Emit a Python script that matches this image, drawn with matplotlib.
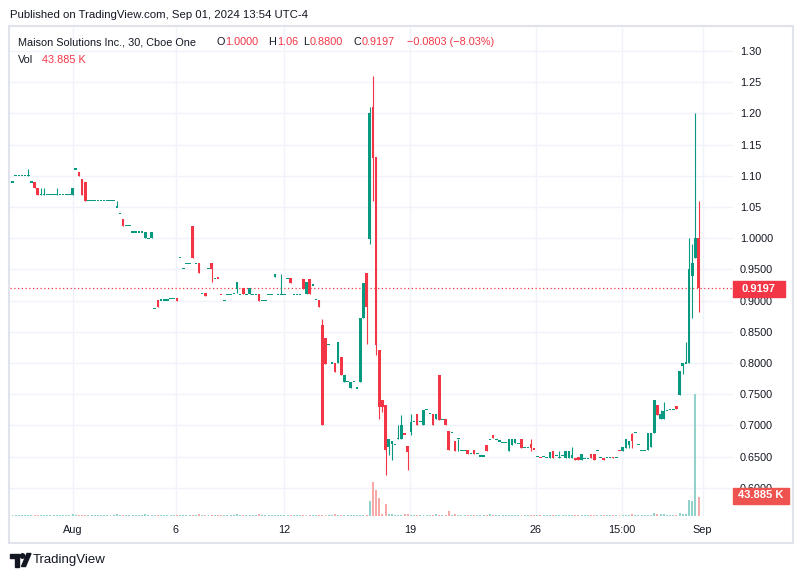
import numpy as np
import matplotlib.pyplot as plt
from matplotlib.patches import Rectangle, Ellipse, Polygon
from matplotlib.ticker import FuncFormatter

plt.rcParams['font.family'] = ['Liberation Sans', 'DejaVu Sans']

W, H = 804, 578

# 30 min candles
opens = [
    1.090, 1.100, 1.100, 1.100, 1.100, 1.100, 1.090, 1.090, 1.080, 1.070,
    1.070, 1.070, 1.070, 1.070, 1.070, 1.070, 1.070, 1.070, 1.070, 1.070,
    1.111, 1.106, 1.095, 1.090, 1.060, 1.060, 1.060, 1.060, 1.060, 1.060,
    1.060, 1.060, 1.060, 1.050, 1.040, 1.031, 1.020, 1.020, 1.010, 1.010,
    1.010, 1.010, 1.000, 1.000, 1.000, 0.888, 0.901, 0.901, 0.901, 0.901,
    0.904, 0.904, 0.904, 0.969, 0.951, 0.960, 0.960, 1.020, 0.960, 0.960,
    0.912, 0.912, 0.951, 0.960, 0.935, 0.9365, 0.9105, 0.900, 0.910, 0.910,
    0.912, 0.919, 0.910, 0.920, 0.910, 0.910, 0.910, 0.910, 0.910, 0.900,
    0.900, 0.910, 0.910, 0.938, 0.910, 0.910, 0.910, 0.936, 0.936, 0.910,
    0.910, 0.910, 0.935, 0.910, 0.935, 0.925, 0.902, 0.901, 0.861, 0.840,
    0.830, 0.800, 0.800, 0.800, 0.810, 0.770, 0.770, 0.760, 0.770, 0.760,
    0.770, 0.872, 0.944, 0.999, 1.210, 1.130, 0.821, 0.741, 0.732, 0.666,
    0.670, 0.670, 0.679, 0.679, 0.6865, 0.667, 0.690, 0.706, 0.719, 0.706,
    0.700, 0.725, 0.719, 0.719, 0.710, 0.781, 0.710, 0.710, 0.691, 0.689,
    0.675, 0.679, 0.660, 0.660, 0.660, 0.655, 0.660, 0.655, 0.651, 0.651,
    0.669, 0.678, 0.685, 0.678, 0.675, 0.673, 0.673, 0.659, 0.669, 0.671,
    0.671, 0.678, 0.665, 0.665, 0.670, 0.6625, 0.650, 0.6485, 0.650, 0.648,
    0.648, 0.659, 0.652, 0.648, 0.652, 0.648, 0.648, 0.648, 0.648, 0.650,
    0.644, 0.647, 0.647, 0.654, 0.654, 0.660, 0.649, 0.648, 0.649, 0.648,
    0.649, 0.648, 0.6595, 0.659, 0.664, 0.669, 0.687, 0.688, 0.670, 0.660,
    0.660, 0.660, 0.665, 0.688, 0.732, 0.710, 0.710, 0.724, 0.726, 0.726,
    0.731, 0.749, 0.795, 0.800, 0.800, 0.940, 0.969, 1.000,
]
highs = [
    1.090, 1.100, 1.100, 1.100, 1.100, 1.111, 1.090, 1.090, 1.080, 1.080,
    1.080, 1.070, 1.070, 1.070, 1.080, 1.070, 1.070, 1.070, 1.070, 1.080,
    1.111, 1.106, 1.095, 1.090, 1.060, 1.060, 1.060, 1.060, 1.060, 1.060,
    1.060, 1.060, 1.060, 1.060, 1.040, 1.031, 1.020, 1.020, 1.010, 1.010,
    1.010, 1.010, 1.010, 1.000, 1.010, 0.888, 0.901, 0.901, 0.901, 0.901,
    0.904, 0.904, 0.904, 0.969, 0.951, 0.960, 0.960, 1.020, 0.960, 0.960,
    0.912, 0.912, 0.951, 0.960, 0.935, 0.9365, 0.9105, 0.900, 0.910, 0.910,
    0.912, 0.930, 0.910, 0.920, 0.910, 0.920, 0.910, 0.910, 0.910, 0.900,
    0.900, 0.910, 0.910, 0.943, 0.910, 0.943, 0.910, 0.936, 0.936, 0.910,
    0.910, 0.910, 0.935, 0.930, 0.935, 0.925, 0.902, 0.901, 0.871, 0.840,
    0.830, 0.800, 0.800, 0.833, 0.810, 0.780, 0.770, 0.770, 0.770, 0.760,
    0.872, 0.928, 0.944, 1.211, 1.260, 1.130, 0.821, 0.741, 0.732, 0.679,
    0.675, 0.670, 0.700, 0.717, 0.6865, 0.667, 0.719, 0.706, 0.719, 0.706,
    0.725, 0.725, 0.719, 0.719, 0.719, 0.781, 0.710, 0.710, 0.691, 0.689,
    0.675, 0.679, 0.660, 0.660, 0.660, 0.655, 0.660, 0.655, 0.651, 0.651,
    0.669, 0.678, 0.685, 0.678, 0.675, 0.673, 0.673, 0.678, 0.678, 0.678,
    0.671, 0.678, 0.665, 0.665, 0.678, 0.6625, 0.650, 0.6485, 0.650, 0.648,
    0.658, 0.659, 0.652, 0.659, 0.652, 0.659, 0.659, 0.665, 0.648, 0.650,
    0.654, 0.647, 0.647, 0.654, 0.654, 0.660, 0.649, 0.648, 0.649, 0.648,
    0.649, 0.648, 0.6595, 0.665, 0.678, 0.675, 0.688, 0.688, 0.670, 0.660,
    0.660, 0.688, 0.688, 0.740, 0.732, 0.725, 0.738, 0.724, 0.726, 0.726,
    0.731, 0.787, 0.800, 0.834, 1.000, 0.991, 1.201, 1.060,
]
lows = [
    1.090, 1.100, 1.100, 1.100, 1.100, 1.100, 1.090, 1.080, 1.070, 1.070,
    1.070, 1.070, 1.070, 1.070, 1.070, 1.070, 1.070, 1.070, 1.070, 1.070,
    1.111, 1.099, 1.070, 1.059, 1.060, 1.060, 1.060, 1.060, 1.060, 1.060,
    1.060, 1.060, 1.060, 1.050, 1.040, 1.019, 1.020, 1.020, 1.010, 1.010,
    1.010, 1.010, 1.000, 1.000, 1.000, 0.888, 0.889, 0.901, 0.901, 0.901,
    0.904, 0.904, 0.900, 0.969, 0.951, 0.960, 0.960, 0.969, 0.960, 0.945,
    0.912, 0.907, 0.951, 0.930, 0.935, 0.936, 0.910, 0.900, 0.910, 0.910,
    0.912, 0.912, 0.910, 0.910, 0.910, 0.910, 0.910, 0.910, 0.900, 0.900,
    0.900, 0.910, 0.910, 0.938, 0.910, 0.910, 0.910, 0.936, 0.928, 0.910,
    0.910, 0.910, 0.919, 0.910, 0.910, 0.925, 0.902, 0.889, 0.700, 0.799,
    0.830, 0.800, 0.786, 0.800, 0.780, 0.770, 0.770, 0.760, 0.770, 0.760,
    0.770, 0.872, 0.830, 0.991, 1.060, 0.813, 0.710, 0.722, 0.620, 0.653,
    0.645, 0.670, 0.679, 0.679, 0.686, 0.629, 0.685, 0.706, 0.700, 0.706,
    0.700, 0.725, 0.719, 0.700, 0.710, 0.709, 0.710, 0.700, 0.660, 0.689,
    0.659, 0.659, 0.660, 0.660, 0.654, 0.655, 0.654, 0.655, 0.651, 0.651,
    0.659, 0.678, 0.680, 0.678, 0.675, 0.673, 0.673, 0.659, 0.669, 0.671,
    0.671, 0.664, 0.665, 0.665, 0.659, 0.662, 0.650, 0.648, 0.650, 0.648,
    0.648, 0.648, 0.652, 0.648, 0.652, 0.648, 0.648, 0.648, 0.644, 0.644,
    0.644, 0.647, 0.647, 0.648, 0.644, 0.660, 0.649, 0.645, 0.649, 0.648,
    0.647, 0.648, 0.659, 0.659, 0.664, 0.664, 0.664, 0.688, 0.670, 0.660,
    0.660, 0.660, 0.665, 0.688, 0.716, 0.710, 0.710, 0.724, 0.726, 0.726,
    0.726, 0.749, 0.782, 0.800, 0.800, 0.872, 0.969, 0.881,
]
closes = [
    1.090, 1.100, 1.100, 1.100, 1.100, 1.100, 1.090, 1.080, 1.070, 1.070,
    1.070, 1.070, 1.070, 1.070, 1.070, 1.070, 1.070, 1.070, 1.070, 1.080,
    1.111, 1.099, 1.070, 1.059, 1.060, 1.060, 1.060, 1.060, 1.060, 1.060,
    1.060, 1.060, 1.060, 1.050, 1.040, 1.019, 1.020, 1.020, 1.010, 1.010,
    1.010, 1.010, 1.010, 1.000, 1.010, 0.888, 0.889, 0.901, 0.901, 0.901,
    0.904, 0.904, 0.900, 0.969, 0.951, 0.960, 0.960, 0.969, 0.960, 0.945,
    0.912, 0.907, 0.951, 0.951, 0.935, 0.936, 0.910, 0.900, 0.910, 0.910,
    0.912, 0.930, 0.910, 0.910, 0.910, 0.920, 0.910, 0.910, 0.900, 0.900,
    0.900, 0.910, 0.910, 0.943, 0.910, 0.910, 0.910, 0.936, 0.928, 0.910,
    0.910, 0.910, 0.919, 0.930, 0.910, 0.925, 0.902, 0.889, 0.700, 0.799,
    0.830, 0.800, 0.786, 0.833, 0.780, 0.780, 0.770, 0.770, 0.770, 0.760,
    0.872, 0.928, 0.889, 1.200, 1.129, 0.829, 0.730, 0.730, 0.661, 0.679,
    0.675, 0.670, 0.679, 0.700, 0.686, 0.658, 0.706, 0.706, 0.700, 0.706,
    0.725, 0.725, 0.719, 0.700, 0.719, 0.709, 0.710, 0.700, 0.660, 0.689,
    0.659, 0.679, 0.660, 0.660, 0.654, 0.655, 0.654, 0.655, 0.651, 0.651,
    0.659, 0.678, 0.680, 0.678, 0.675, 0.673, 0.673, 0.678, 0.678, 0.678,
    0.671, 0.664, 0.665, 0.665, 0.664, 0.662, 0.650, 0.648, 0.650, 0.648,
    0.658, 0.648, 0.652, 0.648, 0.652, 0.659, 0.659, 0.652, 0.644, 0.644,
    0.654, 0.647, 0.647, 0.648, 0.644, 0.660, 0.649, 0.645, 0.649, 0.648,
    0.647, 0.648, 0.659, 0.665, 0.678, 0.675, 0.675, 0.688, 0.670, 0.660,
    0.660, 0.688, 0.688, 0.740, 0.716, 0.718, 0.723, 0.724, 0.726, 0.726,
    0.726, 0.787, 0.800, 0.800, 0.951, 0.961, 1.000, 0.9197,
]
# volume in thousands
volumes = [
    2.0, 1.8, 1.8, 1.8, 1.8, 2.2, 1.8, 2.0, 2.0, 1.8,
    1.8, 1.8, 1.8, 1.8, 2.0, 1.8, 1.8, 1.8, 1.8, 4.5,
    1.8, 2.0, 2.0, 2.0, 1.8, 1.8, 1.8, 1.8, 1.8, 1.8,
    1.8, 1.8, 2.0, 4.5, 1.8, 2.0, 1.8, 1.8, 1.8, 1.8,
    1.8, 1.8, 4.5, 1.8, 2.0, 1.8, 2.0, 1.8, 1.8, 1.8,
    1.8, 1.8, 2.0, 1.8, 1.8, 1.8, 1.8, 2.5, 1.8, 4.5,
    1.8, 2.0, 1.8, 2.0, 1.8, 2.0, 2.0, 1.8, 1.8, 1.8,
    1.8, 4.5, 1.8, 2.0, 1.8, 2.0, 1.8, 1.8, 4.5, 1.8,
    1.8, 1.8, 1.8, 2.0, 1.8, 2.0, 1.8, 1.8, 2.0, 1.8,
    1.8, 1.8, 2.0, 2.0, 2.0, 1.8, 1.8, 2.0, 3.0, 2.0,
    1.8, 1.8, 5.0, 2.0, 2.0, 1.8, 1.8, 1.8, 1.8, 1.8,
    3.0, 3.0, 2.5, 35.0, 78.0, 60.0, 40.0, 5.0, 28.0, 3.5,
    5.0, 3.0, 3.0, 3.0, 4.0, 5.0, 3.0, 2.0, 2.5, 2.0,
    2.0, 2.0, 2.0, 2.5, 5.0, 3.0, 2.0, 2.5, 12.0, 2.5,
    3.5, 2.0, 1.8, 1.8, 2.0, 1.8, 2.0, 1.8, 1.8, 1.8,
    2.5, 5.0, 2.0, 2.5, 2.0, 1.8, 1.8, 2.0, 1.8, 1.8,
    1.8, 2.0, 1.8, 1.8, 2.0, 1.8, 1.8, 1.8, 1.8, 1.8,
    2.0, 2.0, 1.8, 1.8, 1.8, 1.8, 2.0, 1.8, 1.8, 1.8,
    1.8, 1.8, 1.8, 1.8, 1.8, 1.8, 1.8, 1.8, 1.8, 1.8,
    1.8, 1.8, 1.8, 1.8, 2.0, 1.8, 4.0, 1.8, 1.8, 1.8,
    1.8, 2.0, 1.8, 7.0, 4.0, 4.0, 4.0, 2.0, 2.0, 2.0,
    2.0, 7.0, 4.0, 5.0, 37.0, 35.0, 277.0, 43.885,
]

tick_pos = [19.2, 51.6, 86.0, 125.8, 165.5, 192.7, 218.3]
tick_labels = ['Aug', '6', '12', '19', '26', '15:00', 'Sep']
price_ticks = [0.60, 0.65, 0.70, 0.75, 0.80, 0.85, 0.90, 0.95,
               1.00, 1.05, 1.10, 1.15, 1.20, 1.25, 1.30]
last_close = 0.9197
last_vol_label = '43.885 K'

UP = '#089981'
DOWN = '#F23645'
VOL_UP = '#92D2CC'
VOL_DOWN = '#F7A9A7'
TXT = '#131722'
GRID = '#f0f3fa'


def fx(x):
    return x / W


def fy(y):
    return 1 - y / H


o = np.array(opens)
h = np.array(highs)
l = np.array(lows)
c = np.array(closes)
v = np.array(volumes)
x = np.arange(len(o))
up = c >= o

fig = plt.figure(figsize=(W / 100, H / 100), dpi=100)
pos = [fx(10), fy(516), 723 / W, 489 / H]
ax = fig.add_axes(pos)
ax_v = fig.add_axes(pos, facecolor='none')

xlim = (-0.79, 227.9)

# price panel
ax.set_xlim(*xlim)
ax.set_ylim(0.5548, 1.3385)
ax.set_yticks(price_ticks)
ax.yaxis.set_major_formatter(FuncFormatter(
    lambda val, p: f'{val:.2f}' if val > 1.001 else f'{val:.4f}'))
ax.yaxis.tick_right()
ax.set_xticks(tick_pos, tick_labels)
ax.tick_params(axis='y', length=0, pad=5, labelsize=7.8, labelcolor=TXT)
ax.tick_params(axis='x', length=0, pad=6.5, labelsize=7.8, labelcolor=TXT)
for s in ax.spines.values():
    s.set_visible(False)
ax.grid(color=GRID, linewidth=1)
ax.set_axisbelow(True)

cols = np.where(up, UP, DOWN)
ax.vlines(x, l, h, colors=cols, linewidth=0.8, zorder=3)
min_h = 0.0018
body = np.abs(c - o)
flat = body < min_h
bottom = np.where(flat, (o + c) / 2 - min_h / 2, np.minimum(o, c))
height = np.where(flat, min_h, body)
ax.bar(x, height, bottom=bottom, width=0.82, color=cols, linewidth=0, zorder=3)

ax.axhline(last_close, color=DOWN, linestyle=(0, (1, 2)), linewidth=0.9, zorder=2)

# volume panel
ax_v.set_xlim(*xlim)
ax_v.set_ylim(0, 1112)
ax_v.bar(x, v, width=0.62, color=np.where(up, VOL_UP, VOL_DOWN), linewidth=0)
ax_v.axis('off')

# the 0.6000 label sits mostly behind the volume tag, show only its top
clip = Rectangle((0, fy(488)), 1, 1, transform=fig.transFigure, visible=False)
fig.add_artist(clip)
for lbl in ax.get_yticklabels():
    if lbl.get_text() == '0.6000':
        lbl.set_clip_path(clip)

# frame
fig.add_artist(Rectangle((fx(9), fy(543)), 784 / W, 517 / H, transform=fig.transFigure,
                         fill=False, edgecolor='#e0e3eb', linewidth=1.5))

# last price / last volume labels
fig.add_artist(Rectangle((fx(733), fy(297)), 52 / W, 16 / H, transform=fig.transFigure,
                         color=DOWN, zorder=5))
fig.text(fx(759), fy(289), f'{last_close:.4f}', ha='center', va='center',
         color='white', fontsize=8, fontweight='bold', zorder=6)
fig.add_artist(Rectangle((fx(733), fy(503.5)), 56 / W, 16 / H, transform=fig.transFigure,
                         color='#EF5350', zorder=5))
fig.text(fx(761), fy(495.5), last_vol_label, ha='center', va='center',
         color='white', fontsize=8, fontweight='bold', zorder=6)

# header texts
fig.text(fx(10), fy(15), 'Published on TradingView.com, Sep 01, 2024 13:54 UTC-4',
         va='center', fontsize=8.2, color=TXT)

renderer = fig.canvas.get_renderer()
legend_groups = [
    (18.3, [('Maison Solutions Inc., 30, Cboe One', TXT)]),
    (216.5, [('O', TXT), ('1.0000', DOWN)]),
    (268.5, [('H', TXT), ('1.06', DOWN)]),
    (303.5, [('L', TXT), ('0.8800', DOWN)]),
    (353.5, [('C', TXT), ('0.9197', DOWN)]),
    (406.7, [('\u22120.0803 (\u22128.03%)', DOWN)]),
]
for start, parts in legend_groups:
    cur = start
    for txt, col in parts:
        t = fig.text(fx(cur), fy(42.3), txt, va='center', fontsize=7.8, color=col)
        cur = t.get_window_extent(renderer).x1 + 0.5
fig.text(fx(18.3), fy(60), 'Vol', va='center', fontsize=7.8, color=TXT)
fig.text(fx(41.7), fy(60), last_vol_label, va='center', fontsize=7.8, color=DOWN)

# TradingView logo
def pts(lst):
    return [(fx(a), fy(b)) for a, b in lst]

fig.add_artist(Polygon(pts([(10, 553.5), (19.5, 553.5), (19.5, 566.5), (15.5, 566.5),
                            (15.5, 557.5), (10, 557.5)]),
                       closed=True, transform=fig.transFigure, color=TXT))
fig.add_artist(Ellipse((fx(22.5), fy(556)), 4.4 / W, 4.4 / H,
                       transform=fig.transFigure, color=TXT))
fig.add_artist(Polygon(pts([(21.5, 566.5), (25.5, 566.5), (31, 553.5), (27, 553.5)]),
                       closed=True, transform=fig.transFigure, color=TXT))
fig.text(fx(33), fy(560), 'TradingView', va='center', fontsize=9.5, color=TXT)

fig.savefig('out.png', dpi=100)
